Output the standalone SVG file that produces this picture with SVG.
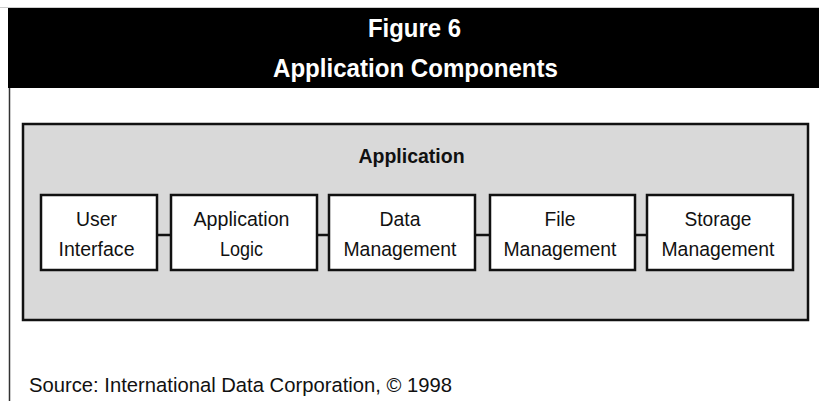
<svg xmlns="http://www.w3.org/2000/svg" width="819" height="401" viewBox="0 0 819 401">
  <style>
    .box { fill: #ffffff; stroke: #111111; stroke-width: 2.5; }
    .lbl { font-family: "Liberation Sans", Arial, sans-serif; font-size: 20.5px; fill: #111111; text-anchor: middle; }
    .conn { stroke: #111111; stroke-width: 2.5; fill: none; }
    .title { font-family: "Liberation Sans", Arial, sans-serif; font-weight: bold; font-size: 26px; fill: #ffffff; text-anchor: middle; }
  </style>
  <rect x="0" y="0" width="819" height="401" fill="#ffffff"/>
  <line x1="0" y1="7.5" x2="819" y2="7.5" stroke="#cccccc" stroke-width="1"/>
  <g id="header">
    <rect x="8" y="8" width="811" height="80" fill="#000000"/>
    <text class="title" x="414.5" y="37" textLength="93" lengthAdjust="spacingAndGlyphs">Figure 6</text>
    <text class="title" x="415.5" y="77" textLength="285" lengthAdjust="spacingAndGlyphs">Application Components</text>
  </g>
  <line x1="9.5" y1="88" x2="9.5" y2="401" stroke="#333333" stroke-width="1.5"/>
  <g id="application">
    <rect x="23" y="124" width="785" height="196" fill="#d9d9d9" stroke="#111111" stroke-width="2.5"/>
    <text x="411.5" y="163" font-family="Liberation Sans, Arial, sans-serif" font-weight="bold" font-size="19.5" fill="#111111" text-anchor="middle">Application</text>
  </g>
  <g id="connectors">
    <line class="conn" x1="157" y1="235" x2="171" y2="235"/>
    <line class="conn" x1="317" y1="235" x2="329" y2="235"/>
    <line class="conn" x1="475" y1="235" x2="490" y2="235"/>
    <line class="conn" x1="635" y1="235" x2="647" y2="235"/>
  </g>
  <g id="user-interface">
    <rect class="box" x="41" y="195" width="116" height="75"/>
    <text class="lbl" x="96.5" y="226" textLength="41" lengthAdjust="spacingAndGlyphs">User</text>
    <text class="lbl" x="96.5" y="256" textLength="76" lengthAdjust="spacingAndGlyphs">Interface</text>
  </g>
  <g id="application-logic">
    <rect class="box" x="171" y="195" width="146" height="75"/>
    <text class="lbl" x="241.5" y="226" textLength="96" lengthAdjust="spacingAndGlyphs">Application</text>
    <text class="lbl" x="241.5" y="256" textLength="43" lengthAdjust="spacingAndGlyphs">Logic</text>
  </g>
  <g id="data-management">
    <rect class="box" x="329" y="195" width="146" height="75"/>
    <text class="lbl" x="400" y="226" textLength="41" lengthAdjust="spacingAndGlyphs">Data</text>
    <text class="lbl" x="400" y="256" textLength="113" lengthAdjust="spacingAndGlyphs">Management</text>
  </g>
  <g id="file-management">
    <rect class="box" x="490" y="195" width="145" height="75"/>
    <text class="lbl" x="560" y="226" textLength="31" lengthAdjust="spacingAndGlyphs">File</text>
    <text class="lbl" x="560" y="256" textLength="113" lengthAdjust="spacingAndGlyphs">Management</text>
  </g>
  <g id="storage-management">
    <rect class="box" x="647" y="195" width="146" height="75"/>
    <text class="lbl" x="718" y="226" textLength="67" lengthAdjust="spacingAndGlyphs">Storage</text>
    <text class="lbl" x="718" y="256" textLength="113" lengthAdjust="spacingAndGlyphs">Management</text>
  </g>
  <text x="29" y="391.5" font-family="Liberation Sans, Arial, sans-serif" font-size="20.5" fill="#111111" textLength="423" lengthAdjust="spacingAndGlyphs">Source: International Data Corporation, © 1998</text>
</svg>
